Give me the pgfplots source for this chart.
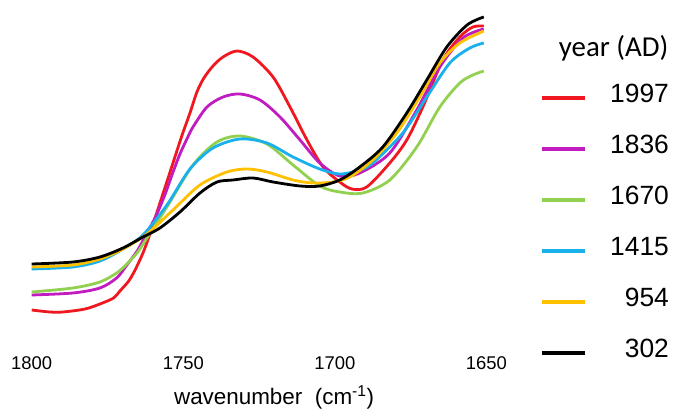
\documentclass[border=0pt]{standalone}
\usepackage{pgfplots}
\pgfplotsset{compat=1.18}
\usepackage{fontspec}
\setmainfont{Liberation Sans}
\newfontfamily\calibri{Carlito}
\definecolor{cRed}{HTML}{F01820}
\definecolor{cMag}{HTML}{C01CC0}
\definecolor{cGreen}{HTML}{92D050}
\definecolor{cBlue}{HTML}{1AB0EC}
\definecolor{cYellow}{HTML}{FFC000}
\begin{document}
\begin{tikzpicture}
\path[use as bounding box] (0,0) rectangle (673bp,411bp);
\begin{axis}[
  at={(31.7bp,58bp)}, anchor=south west,
  scale only axis, width=454.8bp, height=353bp,
  xmin=1650, xmax=1800, x dir=reverse, ymin=-33, ymax=320,
  axis y line=none, axis x line*=bottom, x axis line style={draw=none},
  xtick={1650,1700,1750,1800}, major tick length=0pt,
  xticklabel style={font=\fontsize{18.5}{20}\selectfont, /pgf/number format/1000 sep={}, /pgf/number format/assume math mode=true},
  xlabel={wavenumber\ \ (cm\textsuperscript{-1})},
  xlabel style={font=\fontsize{22.5}{24}\selectfont, at={(axis description cs:0.533,-0.1445)}, anchor=base},
  clip=false,
  every axis plot/.append style={line width=2.8bp, smooth},
  legend image code/.code={\draw[#1,line width=3.2bp] (0bp,0bp) -- (43bp,0bp);},
  legend cell align=right,
  legend style={draw=none, fill=none, inner sep=0pt, outer sep=0pt, row sep=0pt, column sep=24bp,
    font=\fontsize{26.5}{28}\selectfont,
    nodes={inner sep=0pt, text height=30bp, text depth=21bp},
    at={(axis description cs:1.1176,0.7946)}, anchor=north west},
]
\addplot[cRed] coordinates {(1800,10) (1794.0,8) (1789.7,8) (1782.4,11) (1777.5,16) (1773,22) (1770.9,29) (1768,39) (1765.9,50) (1763.3,67) (1761.0,86) (1757.7,117) (1753.4,157) (1750.5,184) (1747.8,207) (1745.5,228) (1743.2,242) (1740.2,254) (1736.9,263) (1732.3,269) (1727.0,263) (1720.4,243) (1714.8,213) (1709.2,180) (1703.9,153) (1698.4,138) (1694.4,131) (1689.5,133) (1681.9,157) (1676.3,180) (1671.0,213) (1664.4,260) (1658.8,283) (1654.5,293) (1650.9,294)};
\addlegendentry{1997}
\addplot[cMag] coordinates {(1800,25) (1786.4,27) (1777.5,32) (1772,42) (1768.6,55) (1765,70) (1762.0,87) (1759,104) (1756.1,125) (1753.5,147) (1751.1,166) (1748.5,183) (1746.8,193) (1742.2,213) (1736.9,223) (1731.3,226) (1724.7,220) (1718.1,203) (1711.5,180) (1705.0,157) (1698.4,144) (1691.8,147) (1681.9,167) (1673.0,210) (1665.4,253) (1657.8,282) (1650.9,291)};
\addlegendentry{1836}
\addplot[cGreen] coordinates {(1800,28) (1786.4,32) (1777.5,38) (1772,47) (1768.6,56) (1765,68) (1762.0,82) (1755.4,113) (1746.8,155) (1738.9,178) (1731.3,184) (1722.4,176) (1713.8,155) (1705.0,134) (1698.4,128) (1690.8,127) (1681.9,140) (1673.0,173) (1665.4,213) (1658.8,237) (1654.5,245) (1650.9,249)};
\addlegendentry{1670}
\addplot[cBlue] coordinates {(1800,51) (1786.4,53) (1777.5,59) (1769.9,71) (1763.3,85) (1755.4,115) (1747.8,151) (1740.2,172) (1731.3,181) (1722.4,177) (1713.8,163) (1705.0,151) (1698.4,146) (1691.8,150) (1687.5,157) (1677.6,187) (1669.7,223) (1662.1,257) (1655.5,272) (1650.9,277)};
\addlegendentry{1415}
\addplot[cYellow] coordinates {(1800,53) (1786.4,55) (1777.5,61) (1769.9,71) (1762.0,86) (1753.4,110) (1744.5,135) (1735.6,148) (1729.0,151) (1722.4,148) (1713.8,140) (1707.3,137) (1700.7,138) (1695.1,143) (1687.5,160) (1679.6,187) (1672.0,223) (1665.4,257) (1658.8,277) (1650.9,289)};
\addlegendentry{954}
\addplot[black] coordinates {(1800,56) (1786.4,58) (1777.5,63) (1769.9,72) (1763.3,83) (1757.7,92) (1751.1,108) (1744.5,127) (1738.9,138) (1733.6,140) (1727.0,142) (1720.4,138) (1711.5,134) (1705.0,134) (1698.4,140) (1691.8,153) (1684.2,173) (1676.3,207) (1669.7,240) (1663.1,273) (1656.4,295) (1650.9,303)};
\addlegendentry{302}
\node[anchor=east, inner sep=0pt, font=\calibri\fontsize{29}{30}\selectfont] at (axis description cs:1.4006,0.864) {year (AD)};
\end{axis}
\end{tikzpicture}
\end{document}
